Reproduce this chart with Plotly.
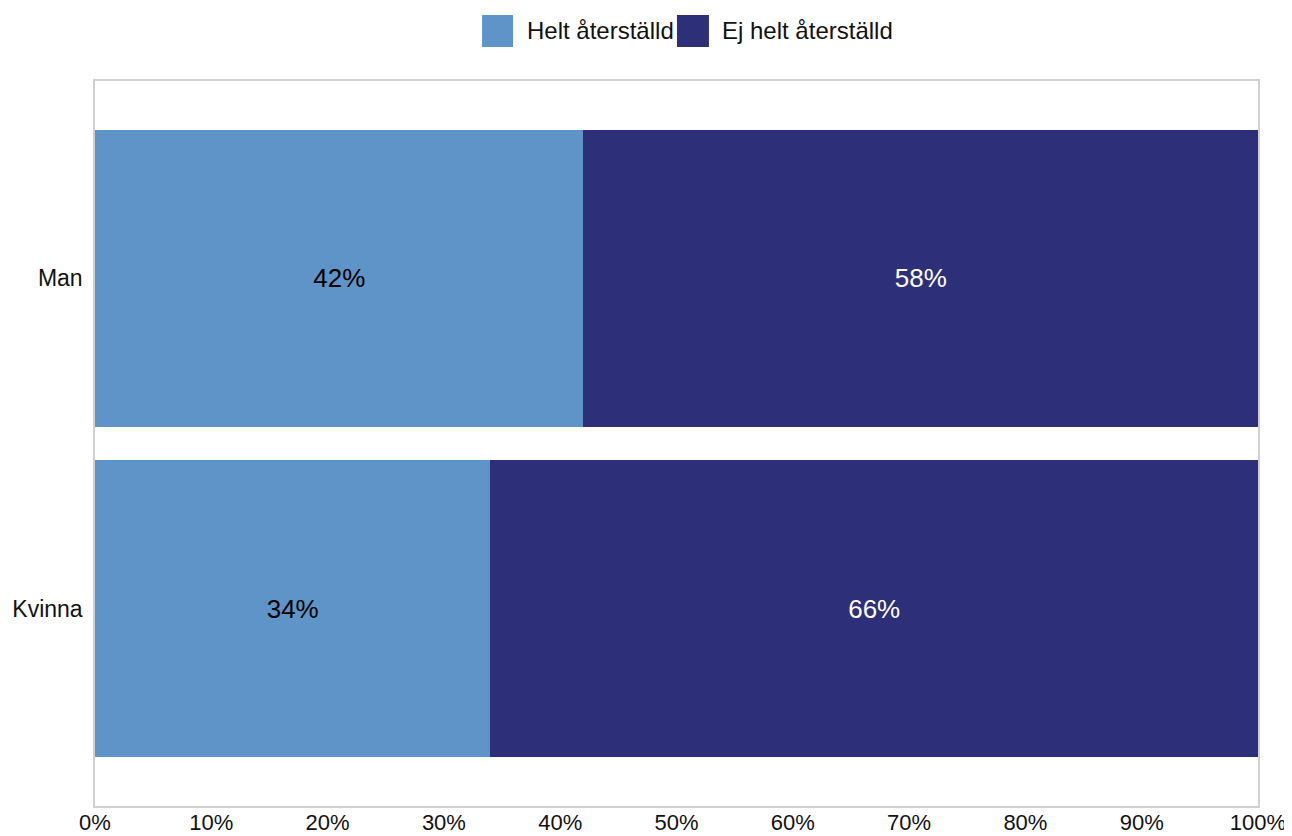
import plotly.graph_objects as go

categories = ["Kvinna", "Man"]
helt = [34, 42]
ej_helt = [66, 58]
series_names = ["Helt återställd", "Ej helt återställd"]
colors = ["#5E94C7", "#2D3079"]
x_ticks = [0, 10, 20, 30, 40, 50, 60, 70, 80, 90, 100]
x_tick_labels = [f"{v}%" for v in x_ticks]

FONT = "Liberation Sans, Arial"

fig = go.Figure()
fig.add_trace(go.Bar(
    y=categories, x=helt, orientation="h", name=series_names[0],
    marker=dict(color=colors[0], line=dict(width=0)),
    text=[f"{v}%" for v in helt], textposition="inside", insidetextanchor="middle",
    textfont=dict(color="black", size=26, family=FONT),
    showlegend=False,
))
fig.add_trace(go.Bar(
    y=categories, x=ej_helt, orientation="h", name=series_names[1],
    marker=dict(color=colors[1], line=dict(width=0)),
    text=[f"{v}%" for v in ej_helt], textposition="inside", insidetextanchor="middle",
    textfont=dict(color="white", size=26, family=FONT),
    showlegend=False,
))

# custom legend (large square swatches), positions in paper coordinates
legend_items = [
    (0.3328, 0.3594, 0.3700, series_names[0], colors[0]),
    (0.5004, 0.5279, 0.5376, series_names[1], colors[1]),
]
shapes = []
annotations = []
for x0, x1, xt, name, col in legend_items:
    shapes.append(dict(type="rect", xref="paper", yref="paper",
                       x0=x0, x1=x1, y0=1.0469, y1=1.0910,
                       fillcolor=col, line=dict(width=0)))
    annotations.append(dict(xref="paper", yref="paper", x=xt, y=1.069,
                            text=name, showarrow=False, xanchor="left", yanchor="middle",
                            font=dict(size=24, color="#111111", family=FONT)))

fig.update_layout(
    barmode="stack",
    bargap=0.1,
    width=1284, height=828,
    margin=dict(l=87, r=34, t=73, b=30),
    paper_bgcolor="white", plot_bgcolor="white",
    font=dict(family=FONT, size=22, color="black"),
    shapes=shapes,
    annotations=annotations,
    uniformtext=dict(mode=False),
)
fig.update_xaxes(
    range=[0, 100], tickvals=x_ticks, ticktext=x_tick_labels,
    showgrid=False, zeroline=False, showline=True, linecolor="#D0D0D0", linewidth=1.5,
    mirror=True, ticks="", tickfont=dict(size=22, color="#111111"), automargin=False,
    ticklabelstandoff=-4,
)
fig.update_yaxes(
    range=[-0.598, 1.598], showgrid=False, zeroline=False, showline=True,
    linecolor="#D0D0D0", linewidth=1.5, mirror=True, ticks="", ticklabelstandoff=6,
    tickfont=dict(size=23, color="#111111"), automargin=False,
)

fig.write_html("out.html")
